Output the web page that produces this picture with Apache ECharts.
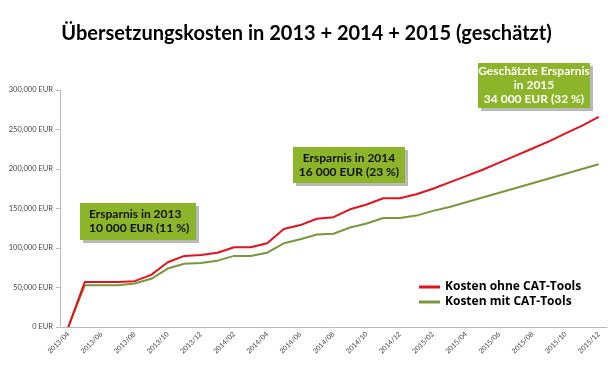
<!DOCTYPE html>
<html><head><meta charset="utf-8">
<script src="https://cdn.jsdelivr.net/npm/echarts@6/dist/echarts.min.js"></script>
<style>html,body{margin:0;padding:0;background:#fff}#c{width:613px;height:370px}</style>
</head><body><div id="c"></div>
<script>
const categories = ['2013/04','2013/05','2013/06','2013/07','2013/08','2013/09','2013/10','2013/11','2013/12',
'2014/01','2014/02','2014/03','2014/04','2014/05','2014/06','2014/07','2014/08','2014/09','2014/10','2014/11','2014/12',
'2015/01','2015/02','2015/03','2015/04','2015/05','2015/06','2015/07','2015/08','2015/09','2015/10','2015/11','2015/12'];
const kostenOhne = [0,57000,57000,57000,58000,66000,82000,90000,91000,94000,101000,101000,106000,124000,129000,137000,139000,149000,155000,163000,163000,
168000,175000,183000,191000,199000,208000,217000,226000,235000,245000,255000,266000];
const kostenMit = [0,53000,53000,53000,55000,61000,74000,80000,81000,84000,90000,90000,94000,106000,111000,117000,118000,126000,131000,138000,138000,
141000,147000,152000,158000,164000,170000,176000,182000,188000,194000,200000,206000];
const yTicks = {min:0, max:300000, interval:50000};
const title = 'Übersetzungskosten in 2013 + 2014 + 2015 (geschätzt)';
const notes = [
  {lines:['Ersparnis in 2013','10 000 EUR (11 %)'], color:'#111'},
  {lines:['Ersparnis in 2014','16 000 EUR (23 %)'], color:'#111'},
  {lines:['Geschätzte Ersparnis','in 2015','34 000 EUR (32 %)'], color:'#fff'}
];
const names = ['Kosten ohne CAT-Tools','Kosten mit CAT-Tools'];

const chart = echarts.init(document.getElementById('c'));
const font = 'Lato, "Open Sans", sans-serif';
function box(x,y,w,h,note,align){
  return {type:'group', children:[
    {type:'rect', shape:{x:x+3,y:y+3,width:w,height:h}, style:{fill:'#b9b9b9'}},
    {type:'rect', shape:{x:x,y:y,width:w,height:h}, style:{fill:'#8db52a'}},
    {type:'text', x: align==='center'? x+w/2 : x+9, y:y+h/2, style:{text:note.lines.join('\n'), fill:note.color,
      font:'bold 12px '+font, lineHeight:14, align:align, verticalAlign:'middle'}}
  ]};
}
chart.setOption({
  animation:false,
  title:{text:title, left:'center', top:19, textStyle:{fontFamily:font, fontWeight:'bold', fontSize:20, color:'#000'}},
  grid:{left:60, right:6, top:90, bottom:43, containLabel:false},
  legend:{show:true, orient:'vertical', left:414, top:276, itemGap:3, itemWidth:21, itemHeight:3, icon:'rect',
    textStyle:{fontFamily:'"Open Sans", sans-serif', fontWeight:'bold', fontSize:12, color:'#000'}, data:names},
  xAxis:{type:'category', data:categories, boundaryGap:true,
    axisLine:{lineStyle:{color:'#bbb'}},
    axisTick:{interval:0, length:4, lineStyle:{color:'#bbb'}},
    axisLabel:{interval:1, rotate:45, fontSize:7, color:'#444', fontFamily:font, margin:6}},
  yAxis:{type:'value', min:yTicks.min, max:yTicks.max, interval:yTicks.interval,
    splitLine:{show:false},
    axisLine:{show:true, lineStyle:{color:'#bbb'}},
    axisTick:{show:true, length:4, lineStyle:{color:'#bbb'}},
    axisLabel:{fontSize:7.5, color:'#444', fontFamily:font, margin:7,
      formatter:v=>v.toLocaleString('en-US')+' EUR'}},
  series:[
    {name:names[0], type:'line', data:kostenOhne, symbol:'none', lineStyle:{color:'#e3121b', width:2}, itemStyle:{color:'#e3121b'}, z:3},
    {name:names[1], type:'line', data:kostenMit, symbol:'none', lineStyle:{color:'#7a963a', width:2}, itemStyle:{color:'#7a963a'}, z:2}
  ],
  graphic:[
    box(80,203,116,37,notes[0],'left'),
    box(293,147,112,36,notes[1],'center'),
    box(478,63,112,45,notes[2],'center')
  ]
});
</script></body></html>
